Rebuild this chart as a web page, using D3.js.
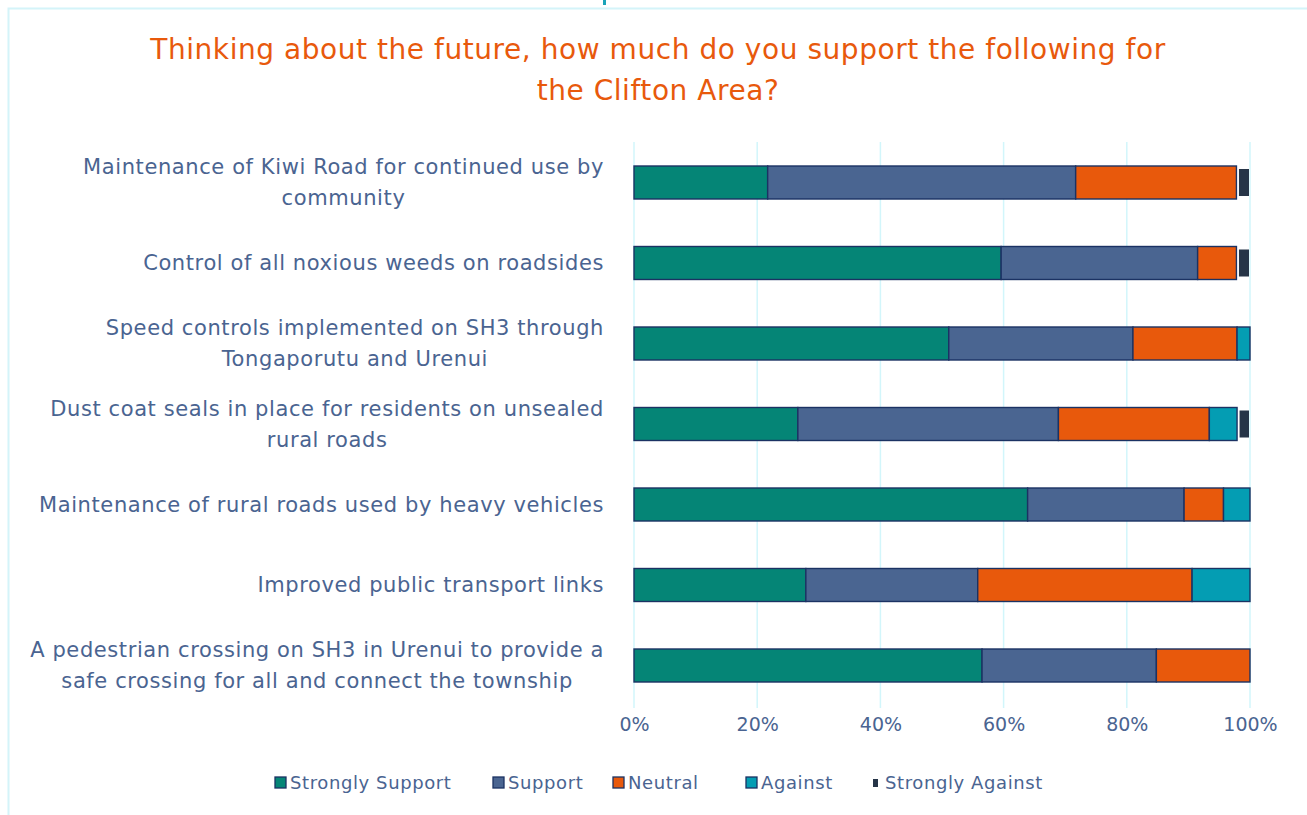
<!DOCTYPE html>
<html>
<head>
<meta charset="utf-8">
<script src="https://cdn.jsdelivr.net/npm/d3@7"></script>
<style>
  body { margin: 0; background: #fff; }
  svg { display: block; font-family: "DejaVu Sans", sans-serif; }
</style>
</head>
<body>
<svg id="chart"></svg>
<script>
// categories (top to bottom), each label already split into its lines
const categories = [
	["Maintenance of Kiwi Road for continued use by", "community"],
	["Control of all noxious weeds on roadsides"],
	["Speed controls implemented on SH3 through", "Tongaporutu and Urenui"],
	["Dust coat seals in place for residents on unsealed", "rural roads"],
	["Maintenance of rural roads used by heavy vehicles"],
	["Improved public transport links"],
	["A pedestrian crossing on SH3 in Urenui to provide a", "safe crossing for all and connect the township"],
];

const seriesNames = ["Strongly Support", "Support", "Neutral", "Against", "Strongly Against"];

// percentages
const stronglySupport = [21.7, 59.6, 51.1, 26.6, 63.9, 27.9, 56.5];
const support = [50.0, 31.9, 29.9, 42.3, 25.4, 27.9, 28.3];
const neutral = [26.1, 6.3, 16.9, 24.5, 6.4, 34.8, 15.2];
const against = [0, 0, 2.1, 4.5, 4.3, 9.4, 0];
const stronglyAgainst = [2.2, 2.2, 0, 2.1, 0, 0, 0];

const xTicks = [0, 20, 40, 60, 80, 100];

const colors = ["#058576", "#4a6591", "#e8590c", "#049db3", "#263447"];
const textColor = "#4a6491";
const gridColor = "#d2f6fb";

const width = 1307;
const height = 815;

const svg = d3.select("#chart").attr("width", width).attr("height", height);

// frame
svg.append("path")
	.attr("d", `M8.5,${height} V8.5 H${width}`)
	.attr("fill", "none")
	.attr("stroke", "#d4f4f9")
	.attr("stroke-width", 2);
svg.append("rect")
	.attr("x", 603).attr("y", 0).attr("width", 3).attr("height", 5)
	.attr("fill", "#1aa3b8");

// title
const title = svg.append("text")
	.attr("text-anchor", "middle")
	.attr("fill", "#e8590c")
	.attr("font-size", 28)
	.attr("letter-spacing", 0.55);
title.append("tspan").attr("x", 658).attr("y", 59).text("Thinking about the future, how much do you support the following for");
title.append("tspan").attr("x", 658).attr("y", 100).text("the Clifton Area?");

// data rows
const rows = categories.map((c, i) => ({
	key: i,
	"Strongly Support": stronglySupport[i],
	"Support": support[i],
	"Neutral": neutral[i],
	"Against": against[i],
	"Strongly Against": stronglyAgainst[i],
}));

const stack = d3.stack().keys(seriesNames);
const series = stack(rows);

const x = d3.scaleLinear().domain([0, 100]).range([634, 1250]);
const y = d3.scaleBand()
	.domain(d3.range(categories.length))
	.range([142.25, 705.75])
	.paddingInner(0.59)
	.paddingOuter(0.295);
const color = d3.scaleOrdinal().domain(seriesNames).range(colors);

// gridlines
svg.append("g")
	.selectAll("line")
	.data(xTicks)
	.join("line")
	.attr("x1", (d) => x(d)).attr("x2", (d) => x(d))
	.attr("y1", 142).attr("y2", 708)
	.attr("stroke", gridColor)
	.attr("stroke-width", 1.5);

// x axis labels
const xAxis = svg.append("g")
	.attr("transform", "translate(0,710)")
	.call(d3.axisBottom(x).tickValues(xTicks).tickFormat((d) => d + "%").tickSize(0).tickPadding(8));
xAxis.select(".domain").remove();
xAxis.selectAll("text")
	.attr("fill", textColor)
	.attr("font-size", 19)
	.attr("font-family", "DejaVu Sans, sans-serif");

// bars
const groups = svg.append("g")
	.selectAll("g")
	.data(series)
	.join("g")
	.attr("fill", (d) => color(d.key));

groups.each(function (s) {
	const g = d3.select(this);
	const isSA = s.key === "Strongly Against";
	g.selectAll("rect")
		.data(s.filter((d) => d[1] - d[0] > 0))
		.join("rect")
		.attr("x", (d) => x(d[0]) + (isSA ? 2.5 : 0))
		.attr("y", (d) => y(d.data.key) + (isSA ? 3 : 0))
		.attr("width", (d) => x(d[1]) - x(d[0]) - (isSA ? 3.5 : 0))
		.attr("height", y.bandwidth() - (isSA ? 6 : 0))
		.attr("stroke", isSA ? "none" : "#1b3263")
		.attr("stroke-width", 1.4);
});

// category labels: block right-aligned, lines centred inside block
const labelRight = 604;
const lineGap = 31;
const labelGroup = svg.append("g")
	.attr("fill", textColor)
	.attr("font-size", 21)
	.attr("letter-spacing", 0.6);

categories.forEach((lines, i) => {
	const cy = y(i) + y.bandwidth() / 2;
	const t = labelGroup.append("text").attr("text-anchor", "middle");
	const spans = lines.map((line, j) =>
		t.append("tspan")
			.attr("y", cy + 7 + (j - (lines.length - 1) / 2) * lineGap)
			.text(line)
	);
	const maxW = d3.max(spans, (s) => s.node().getComputedTextLength());
	spans.forEach((s) => s.attr("x", labelRight - maxW / 2));
});

// legend
const legendItems = [
	{ name: "Strongly Support", x: 275 },
	{ name: "Support", x: 493 },
	{ name: "Neutral", x: 613 },
	{ name: "Against", x: 746 },
	{ name: "Strongly Against", x: 872 },
];

const legend = svg.append("g")
	.selectAll("g")
	.data(legendItems)
	.join("g")
	.attr("transform", (d) => `translate(${d.x},777)`);

legend.append("rect")
	.attr("x", (d) => (d.name === "Strongly Against" ? 1 : 0))
	.attr("y", (d) => (d.name === "Strongly Against" ? 2 : 0))
	.attr("width", (d) => (d.name === "Strongly Against" ? 5 : 11))
	.attr("height", (d) => (d.name === "Strongly Against" ? 8 : 11))
	.attr("fill", (d) => color(d.name))
	.attr("stroke", (d) => (d.name === "Strongly Against" ? "none" : "#1b3263"))
	.attr("stroke-width", 1.3);

legend.append("text")
	.attr("x", (d) => (d.name === "Strongly Against" ? 13 : 15))
	.attr("y", 12)
	.attr("fill", textColor)
	.attr("font-size", 18)
	.attr("letter-spacing", 0.6)
	.text((d) => d.name);
</script>
</body>
</html>
